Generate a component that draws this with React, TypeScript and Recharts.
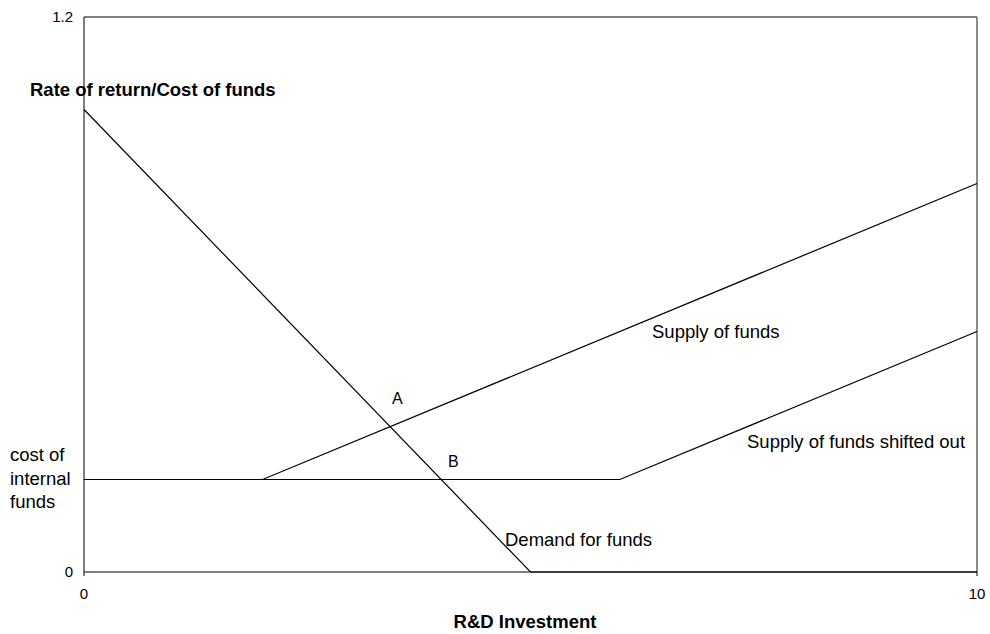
import React from 'react';
import { LineChart, Line, XAxis, YAxis, ReferenceLine, Customized } from 'recharts';

// Data (R&D investment on x, rate of return / cost of funds on y)
const demandX = [0, 5, 10];
const demandY = [1.0, 0, 0];
const supplyX = [0, 2, 10];
const supplyY = [0.2, 0.2, 0.84];
const shiftedX = [0, 6, 10];
const shiftedY = [0.2, 0.2, 0.52];
const xTicks = [0, 10];
const yTicks = [0, 1.2];

const toPts = (xs: number[], ys: number[]) => xs.map((x, i) => ({ x, y: ys[i] }));
const demand = toPts(demandX, demandY);
const supply = toPts(supplyX, supplyY);
const shifted = toPts(shiftedX, shiftedY);

const FONT = '"Liberation Sans", Arial, Helvetica, sans-serif';

const Annotations = () => (
  <g fontFamily={FONT} fill="#000">
    <text x={30} y={96} fontSize={18.5} fontWeight="bold">Rate of return/Cost of funds</text>
    <text x={525} y={628} fontSize={18.5} fontWeight="bold" textAnchor="middle">R&amp;D Investment</text>
    <text x={10} y={461} fontSize={18.5}>cost of</text>
    <text x={10} y={485} fontSize={18.5}>internal</text>
    <text x={10} y={508} fontSize={18.5}>funds</text>
    <text x={392} y={404} fontSize={16}>A</text>
    <text x={448} y={467} fontSize={16}>B</text>
    <text x={652} y={338} fontSize={18.5}>Supply of funds</text>
    <text x={747} y={448} fontSize={18.5}>Supply of funds shifted out</text>
    <text x={505} y={546} fontSize={18.5}>Demand for funds</text>
  </g>
);

export default function App() {
  return (
    <div style={{ position: 'absolute', left: 0, top: 0, width: 990, height: 634, background: '#fff' }}>
      <LineChart width={990} height={634} margin={{ top: 17, right: 13, bottom: 32, left: 0 }}>
        <XAxis
          type="number"
          dataKey="x"
          domain={[0, 10]}
          ticks={xTicks}
          height={30}
          axisLine={{ stroke: '#000' }}
          tickLine={{ stroke: '#000' }}
          tickSize={4}
          tickMargin={12}
          tick={{ fill: '#000', fontSize: 15, fontFamily: FONT }}
        />
        <YAxis
          type="number"
          dataKey="y"
          domain={[0, 1.2]}
          ticks={yTicks}
          width={84}
          axisLine={{ stroke: '#000' }}
          tickLine={false}
          tickSize={0}
          tickMargin={11}
          tick={{ fill: '#000', fontSize: 15, fontFamily: FONT }}
        />
        <ReferenceLine y={1.2} stroke="#000" strokeWidth={1} />
        <ReferenceLine x={10} stroke="#666" strokeWidth={1.5} />
        <Line data={supply} dataKey="y" type="linear" stroke="#000" strokeWidth={1.2} dot={false} isAnimationActive={false} />
        <Line data={shifted} dataKey="y" type="linear" stroke="#000" strokeWidth={1.2} dot={false} isAnimationActive={false} />
        <Line data={demand} dataKey="y" type="linear" stroke="#000" strokeWidth={1.2} dot={false} isAnimationActive={false} />
        <Customized component={Annotations} />
      </LineChart>
    </div>
  );
}
